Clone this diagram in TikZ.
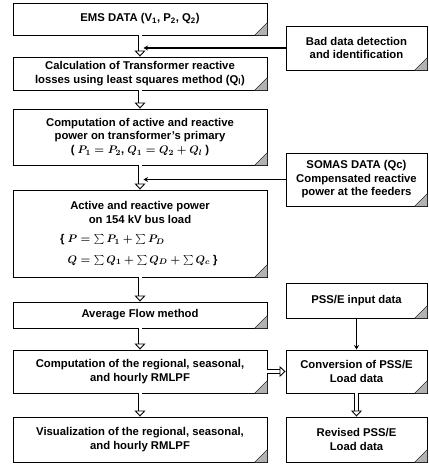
\documentclass[tikz,border=0pt]{standalone}
\usepackage{fontspec}
\setmainfont{Liberation Sans}
\usepackage{tikz}
\usetikzlibrary{arrows.meta,shapes,positioning}
\tikzstyle{feed} = [line width=1.5pt,-{Stealth[length=4.5pt,width=5pt]}]

\begin{document}
\begin{tikzpicture}[
    x=1pt, y=-1pt,
    every node/.style={font=\bfseries\boldmath\fontsize{11.3}{13.5}\selectfont},
    box/.style={rectangle, draw, line width=0.9pt, minimum width=254pt, align=center, inner sep=1pt},
    sidebox/.style={rectangle, draw, line width=0.9pt, minimum width=141pt, align=center, inner sep=1pt},
    hollow/.style={double=white, double distance=3pt, line width=0.9pt, -{Triangle[open, length=6pt, width=11pt, fill=white]}},
    fold/.style={fill=gray!60, draw=black, line width=0.4pt}
]
\useasboundingbox (0,0) rectangle (429,464);

% Main column (left)
\node[box, minimum height=32pt] (ems) at (140,19) {EMS DATA (V\textsubscript{1}, P\textsubscript{2}, Q\textsubscript{2})};
\node[box, minimum height=33pt] (calc) at (140,73.5) {Calculation of Transformer reactive\\losses using least squares method (Q\textsubscript{l})};
\node[box, minimum height=56pt] (comp) at (140,137) {Computation of active and reactive\\power on transformer's primary\\( $P_1 = P_2$, $Q_1 = Q_2 + Q_l$ )};
\node[box, minimum height=87pt] (bus) at (140,233.5) {Active and reactive power\\on 154 kV bus load\\[6pt]
    \makebox[160pt][l]{\{ $P = \sum P_1 + \sum P_D$}\\[7pt]
    \makebox[160pt][l]{\phantom{\{ }$Q = \sum Q_1 + \sum Q_D + \sum Q_c$ \}}};
\node[box, minimum height=26pt] (avg) at (140,315) {Average Flow method};
\node[box, minimum height=43pt] (reg) at (140,371.5) {Computation of the regional, seasonal,\\and hourly RMLPF};
\node[box, minimum height=45pt] (vis) at (140,439.5) {Visualization of the regional, seasonal,\\and hourly RMLPF};

% Side column (right)
\node[sidebox, minimum height=44pt] (bad) at (356.5,48) {Bad data detection\\and identification};
\node[sidebox, minimum height=53pt] (somas) at (356.5,179.5) {SOMAS DATA (Qc)\\Compensated reactive\\power at the feeders};
\node[sidebox, minimum height=35pt] (pssin) at (356.5,300.5) {PSS/E input data};
\node[sidebox, minimum height=43pt] (conv) at (356.5,371.5) {Conversion of PSS/E\\Load data};
\node[sidebox, minimum height=45pt] (rev) at (356.5,439.5) {Revised PSS/E\\Load data};

% Folded corners
\foreach \n in {ems,calc,comp,bus,avg,reg,vis,bad,somas,pssin,conv,rev}
    \filldraw[fold] (\n.south east) -- ++(-13,0) -- ++(13,-13) -- cycle;

% Hollow arrows
\draw[hollow] (ems) -- (calc);
\draw[hollow] (calc) -- (comp);
\draw[hollow] (comp) -- (bus);
\draw[hollow] (bus) -- (avg);
\draw[hollow] (avg) -- (reg);
\draw[hollow] (reg) -- (vis);
\draw[hollow] (reg) -- (conv);
\draw[hollow] (conv) -- (rev);

% Side inputs
\coordinate (badhit) at ([xshift=3.5pt]ems.south |- bad.west);
\coordinate (somashit) at ([xshift=3.5pt]comp.south |- somas.west);
\draw[feed] (bad.west) -- (badhit);
\draw[feed] (somas.west) -- (somashit);
\draw[line width=1.2pt,-{Stealth[length=4.5pt,width=5pt]}] (pssin) -- (conv);

\end{tikzpicture}
\end{document}
